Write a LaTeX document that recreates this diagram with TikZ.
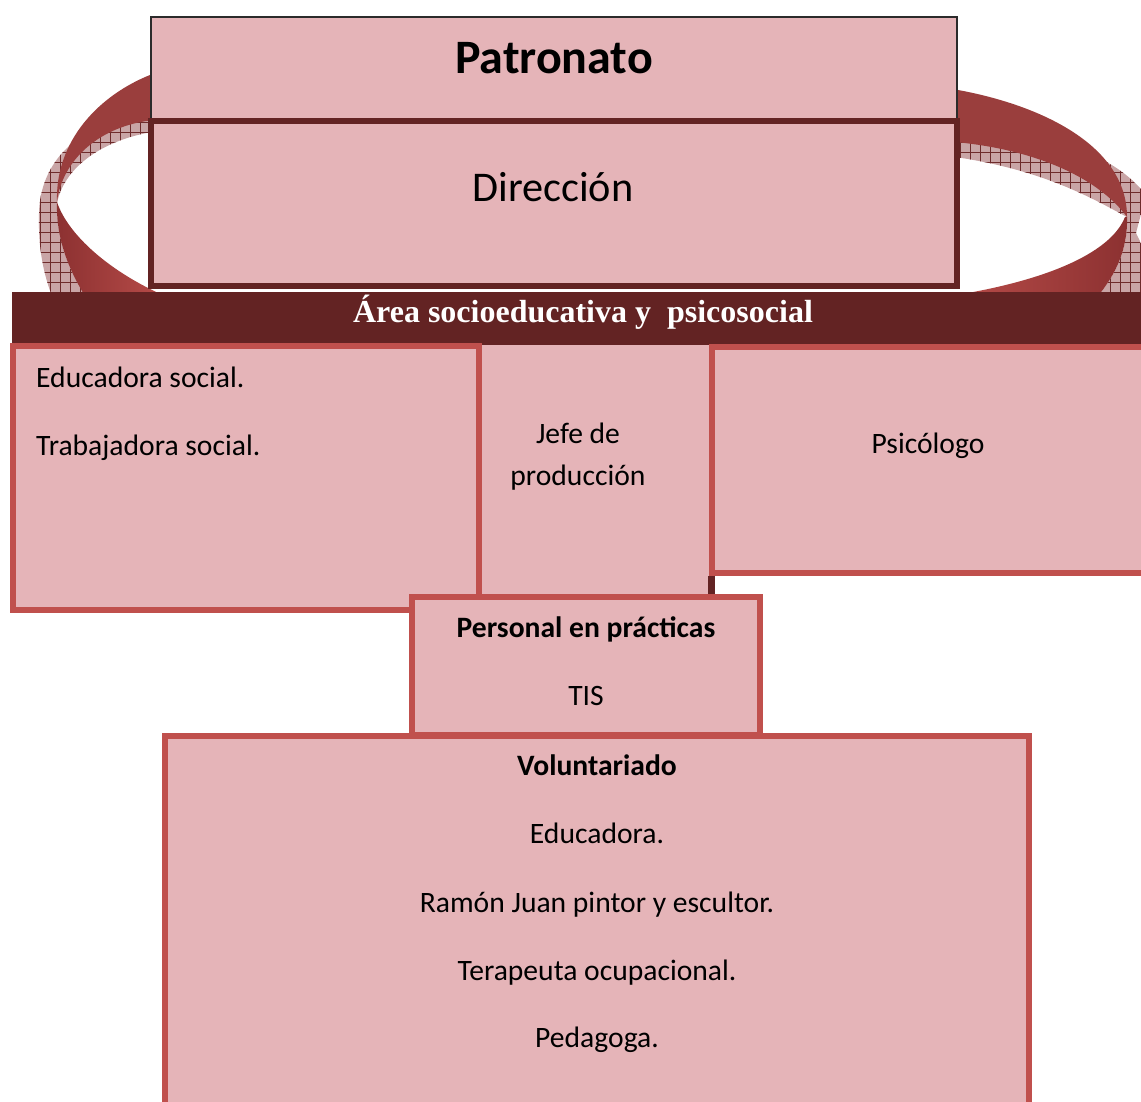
\documentclass[tikz,border=0pt]{standalone}
\usepackage{fontspec}
\setmainfont{Carlito}
\newfontfamily\timesfont{Liberation Serif}
\usetikzlibrary{patterns.meta}
\definecolor{pinkfill}{HTML}{E5B4B8}
\definecolor{boxred}{HTML}{C0504D}
\definecolor{darkmaroon}{HTML}{632323}
\definecolor{patborder}{HTML}{2B2B2B}
\definecolor{ribbon}{HTML}{9A3E3D}
\definecolor{ribbonlight}{HTML}{B84C49}
\definecolor{ribbondark}{HTML}{8C3131}
\definecolor{hatchbg}{HTML}{C9A5A6}
\definecolor{hatchln}{HTML}{6E2B2B}
\begin{document}
\begin{tikzpicture}[x=1pt,y=-1pt,
  plainbox/.style={rectangle, fill=pinkfill, inner sep=0pt, outer sep=0pt, anchor=north west},
  patstyle/.style={plainbox, draw=patborder, line width=2.5pt},
  dirstyle/.style={plainbox, draw=darkmaroon, line width=6pt},
  redbox/.style={plainbox, draw=boxred, line width=6pt},
  barstyle/.style={rectangle, fill=darkmaroon, inner sep=0pt, outer sep=0pt, anchor=north west},
  hatched/.style={fill=hatchbg, postaction={pattern={Hatch[distance=10pt,line width=0.7pt]}, pattern color=hatchln}},
  txt/.style={font=\fontsize{29.6}{35}\selectfont, text=black, inner sep=0pt, anchor=base},
  txtl/.style={txt, anchor=base west},
  txtb/.style={txt, font=\fontsize{29.6}{35}\selectfont\bfseries},
  stub/.style={draw=darkmaroon, line width=7pt}
]
\useasboundingbox (0,0) rectangle (1141,1102);
\clip (0,0) rectangle (1141,1102);

% ---- ribbon, left side ----
\path[hatched] (150,118) .. controls (75,120) and (40,165) .. (39,213)
  .. controls (38,250) and (44,275) .. (52,296) -- (86,296)
  .. controls (67,268) and (57,238) .. (57,203)
  .. controls (65,165) and (105,140) .. (152,132) -- cycle;
\shade[left color=ribbondark, right color=ribbonlight]
  (57,202) .. controls (56,235) and (66,265) .. (85,296) -- (165,296)
  .. controls (110,272) and (68,235) .. (57,202) -- cycle;
\fill[ribbon] (155,74) -- (150,75) .. controls (100,95) and (55,140) .. (57,202)
  .. controls (62,160) and (100,125) .. (155,120) -- cycle;

% ---- ribbon, right side ----
\path[hatched] (955,130) .. controls (1050,130) and (1115,155) .. (1146,195)
  -- (1136,233) -- (1150,262) -- (1150,296) -- (1098,296)
  .. controls (1115,275) and (1128,250) .. (1127,217)
  .. controls (1095,200) and (1045,170) .. (955,157) -- cycle;
\shade[left color=ribbonlight, right color=ribbondark]
  (1127,217) .. controls (1128,250) and (1115,275) .. (1098,296) -- (950,296)
  .. controls (1040,282) and (1110,255) .. (1125,217) -- cycle;
\fill[ribbon] (955,90) -- (958,90) .. controls (1040,105) and (1127,145) .. (1127,217)
  .. controls (1100,180) and (1040,150) .. (955,142) -- cycle;

% ---- top boxes ----
\node[patstyle, minimum width=806pt, minimum height=103pt] (patbox) at (151,17) {};
\node[dirstyle, minimum width=805.5pt, minimum height=165pt] (dirbox) at (151,121) {};
\node[txt, font=\fontsize{48}{54}\selectfont\bfseries] (pattxt) at (554,74) {Patronato};
\node[txt, font=\fontsize{42.3}{48}\selectfont] (dirtxt) at (553,202) {Dirección};

% ---- bar ----
\node[barstyle, minimum width=1145pt, minimum height=53pt] (bar) at (12,292) {};
\node[txt, text=white, font=\fontsize{32}{37}\selectfont\timesfont\bfseries] (bartxt) at (583,323) {Área socioeducativa y\ \ psicosocial};

% ---- second row ----
\node[plainbox, minimum width=230pt, minimum height=252pt] (jefebox) at (480,345) {};
\node[redbox, minimum width=466pt, minimum height=264pt] (leftbox) at (13,346) {};
\node[redbox, minimum width=440pt, minimum height=226pt] (psibox) at (711.5,346.5) {};
\coordinate (stubend) at (711.5,596.5);
\draw[stub] ([yshift=-3pt]psibox.south west) -- (stubend);

\node[txtl] (edu) at (36,387) {Educadora social.};
\node[txtl] (trab) at (36,455) {Trabajadora social.};
\node[txt] (jefe1) at (578,443) {Jefe de};
\node[txt] (jefe2) at (578,485) {producción};
\node[txt] (psi) at (928,453) {Psicólogo};

% ---- personal en practicas ----
\node[redbox, minimum width=348.5pt, minimum height=138.5pt] (persbox) at (411.5,596.5) {};
\node[txtb] (pers) at (586,637) {Personal en prácticas};
\node[txt] (tis) at (586,705) {TIS};

% ---- voluntariado ----
\node[redbox, minimum width=864pt, minimum height=400pt] (volbox) at (165,736) {};
\node[txtb] (vol) at (597,775) {Voluntariado};
\node[txt] (v1) at (597,843) {Educadora.};
\node[txt] (v2) at (597,912) {Ramón Juan pintor y escultor.};
\node[txt] (v3) at (597,980) {Terapeuta ocupacional.};
\node[txt] (v4) at (597,1047) {Pedagoga.};
\end{tikzpicture}
\end{document}
